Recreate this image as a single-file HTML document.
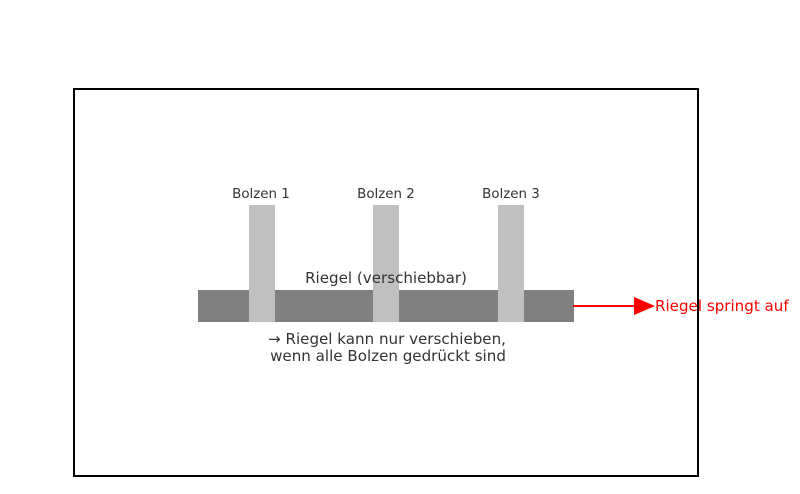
<!DOCTYPE html>
<html><head><meta charset="utf-8"><style>body{margin:0;background:#fff}</style></head><body>
<svg width="800" height="489" xmlns="http://www.w3.org/2000/svg" font-family="DejaVu Sans, sans-serif">
<rect x="198" y="290" width="376" height="32" fill="#808080"/>
<rect x="249" y="205" width="26" height="117" fill="#c0c0c0"/>
<rect x="373" y="205" width="26" height="117" fill="#c0c0c0"/>
<rect x="498" y="205" width="26" height="117" fill="#c0c0c0"/>
<g fill="#333" font-size="13.4" text-anchor="middle">
<text x="261" y="198">Bolzen 1</text>
<text x="386" y="198">Bolzen 2</text>
<text x="511" y="198">Bolzen 3</text>
</g>
<g fill="#333" font-size="15.1" text-anchor="middle">
<text x="386" y="283">Riegel (verschiebbar)</text>
<text x="387" y="344">→ Riegel kann nur verschieben,</text>
<text x="388" y="361">wenn alle Bolzen gedrückt sind</text>
</g>
<line x1="573" y1="306" x2="636" y2="306" stroke="#f00" stroke-width="2"/>
<polygon points="634,297 655,306 634,315" fill="#f00"/>
<text x="655" y="311" fill="#f00" font-size="15.1">Riegel springt auf</text>
<rect x="74" y="89" width="624" height="387" fill="none" stroke="#000" stroke-width="2"/>
</svg>
</body></html>
